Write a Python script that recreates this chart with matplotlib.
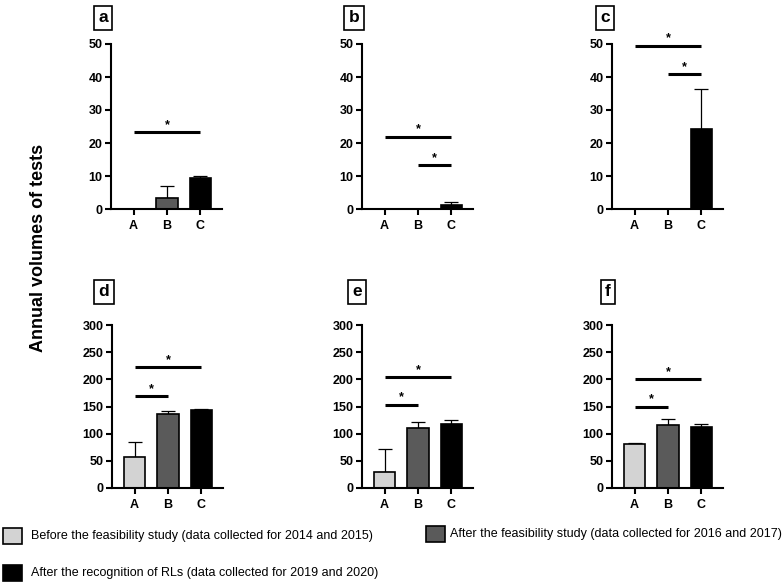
import matplotlib
matplotlib.use('Agg')
import matplotlib.pyplot as plt
from matplotlib import font_manager
from matplotlib.patches import Rectangle
import numpy as np

# Data
groups = ['A', 'B', 'C']
bar_colors = ['#d3d3d3', '#5a5a5a', '#000000']
legend_labels = [
    'Before the feasibility study (data collected for 2014 and 2015)',
    'After the feasibility study (data collected for 2016 and 2017)',
    'After the recognition of RLs (data collected for 2019 and 2020)',
]

# top row, 0-50 scale
a_means = [0, 3.3, 9.4]
a_errs = [0, 3.7, 0.7]
a_sig = [(0, 2, 23.3)]

b_means = [0, 0, 1.3]
b_errs = [0, 0, 0.9]
b_sig = [(0, 2, 21.8), (1, 2, 13.3)]

c_means = [0, 0, 24.3]
c_errs = [0, 0, 12.0]
c_sig = [(0, 2, 49.5), (1, 2, 40.8)]

# bottom row, 0-300 scale
d_means = [57, 137, 144]
d_errs = [28, 4, 1]
d_sig = [(0, 2, 222), (0, 1, 169)]

e_means = [30, 111, 117]
e_errs = [41, 11, 8]
e_sig = [(0, 2, 204), (0, 1, 153)]

f_means = [81, 116, 112]
f_errs = [1, 11, 6]
f_sig = [(0, 2, 200), (0, 1, 149)]

names = {f.name for f in font_manager.fontManager.ttflist}
main_font = 'Liberation Sans' if 'Liberation Sans' in names else 'DejaVu Sans'
plt.rcParams['font.family'] = main_font

W, H = 783, 582
fig = plt.figure(figsize=(W / 100, H / 100), dpi=100)


def px_box(left, top, bottom, width):
    return [left / W, 1 - bottom / H, width / W, (bottom - top) / H]


panels = [
    ('a', a_means, a_errs, a_sig, 50, 10, px_box(111, 44, 209, 111), (103, 18)),
    ('b', b_means, b_errs, b_sig, 50, 10, px_box(362, 44, 209, 111), (354, 18)),
    ('c', c_means, c_errs, c_sig, 50, 10, px_box(612, 44, 209, 111), (605, 18)),
    ('d', d_means, d_errs, d_sig, 300, 50, px_box(112, 325, 488, 111), (104, 292)),
    ('e', e_means, e_errs, e_sig, 300, 50, px_box(362, 325, 488, 111), (357, 292)),
    ('f', f_means, f_errs, f_sig, 300, 50, px_box(612, 325, 488, 111), (608, 292)),
]

x = np.arange(len(groups))

for letter, means, errs, sigs, ymax, ystep, rect, lab_pos in panels:
    ax = fig.add_axes(rect)
    ax.bar(x, means, width=0.64, color=bar_colors, edgecolor='black',
           linewidth=1.2, zorder=2)
    errs = np.array(errs, dtype=float)
    keep = errs > 0
    ax.errorbar(x[keep], np.array(means)[keep],
                yerr=[np.zeros(keep.sum()), errs[keep]],
                fmt='none', ecolor='black', elinewidth=0.9, capsize=5,
                capthick=0.9, zorder=1)
    for i, j, h in sigs:
        ax.plot([x[i], x[j]], [h, h], color='black', lw=2.2,
                solid_capstyle='butt', clip_on=False, zorder=3)
        ax.annotate('*', xy=((x[i] + x[j]) / 2, h), xytext=(0, 1),
                    textcoords='offset points', ha='center', va='bottom',
                    fontsize=9, fontweight='bold')
    ax.set_xlim(-0.68, 2.65)
    ax.set_ylim(0, ymax)
    ax.set_yticks(np.arange(0, ymax + 1, ystep))
    ax.set_xticks(x)
    ax.set_xticklabels(groups)
    for s in ['top', 'right']:
        ax.spines[s].set_visible(False)
    for s in ['left', 'bottom']:
        ax.spines[s].set_linewidth(1.5)
    ax.tick_params(axis='both', direction='out', length=4, width=1.5,
                   labelsize=9, pad=2)
    ax.tick_params(axis='x', pad=4)
    for t in ax.get_xticklabels() + ax.get_yticklabels():
        t.set_fontweight('bold')
    fig.text(lab_pos[0] / W, 1 - lab_pos[1] / H, letter, ha='center',
             va='center', fontsize=12.5, fontweight='bold',
             bbox=dict(boxstyle='square,pad=0.25', facecolor='white',
                       edgecolor='black', linewidth=1.2))

fig.text(39 / W, 1 - 248 / H, 'Annual volumes of tests', rotation=90,
         ha='center', va='center', fontsize=13, fontweight='bold')

# legend
legend_pos = [(3, 528, 31), (426, 526, 450), (3, 565, 31)]
for (sx, sy, tx), col, lab in zip(legend_pos, bar_colors, legend_labels):
    fig.add_artist(Rectangle((sx / W, 1 - (sy + 16) / H), 19 / W, 16 / H,
                             transform=fig.transFigure, facecolor=col,
                             edgecolor='black', linewidth=1.2))
    fig.text(tx / W, 1 - (sy + 8) / H, lab, ha='left', va='center',
             fontsize=9)

fig.savefig('out.png', dpi=100)
